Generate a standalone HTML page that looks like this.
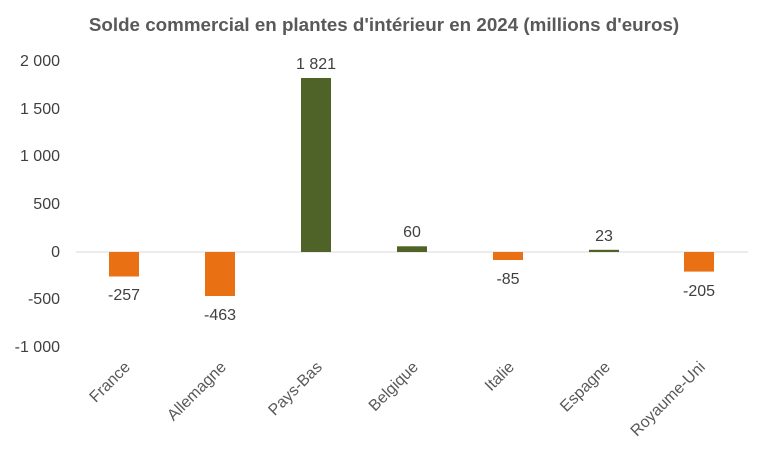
<!DOCTYPE html>
<html><head><meta charset="utf-8"><style>
body{margin:0;background:#fff;}
svg{display:block;font-family:"Liberation Sans",Arial,sans-serif;}
</style></head><body>
<svg width="768" height="461" viewBox="0 0 768 461">
<rect width="768" height="461" fill="#fff"/>
<text x="384" y="31" text-anchor="middle" font-size="18.8" font-weight="bold" fill="#595959">Solde commercial en plantes d'intérieur en 2024 (millions d'euros)</text>
<g font-size="16" fill="#404040" text-anchor="end">
<text x="60" y="66">2 000</text>
<text x="60" y="114">1 500</text>
<text x="60" y="161">1 000</text>
<text x="60" y="209">500</text>
<text x="60" y="257">0</text>
<text x="60" y="304">-500</text>
<text x="60" y="352">-1 000</text>
</g>
<line x1="76" y1="252" x2="748" y2="252" stroke="#d9d9d9" stroke-width="1"/>
<g fill="#E97113">
<rect x="109" y="252" width="30" height="24.5"/>
<rect x="205" y="252" width="30" height="44"/>
<rect x="493" y="252" width="30" height="8"/>
<rect x="684" y="252" width="30" height="19.6"/>
</g>
<g fill="#4F6228">
<rect x="301" y="78" width="30" height="174"/>
<rect x="397" y="246.3" width="30" height="5.7"/>
<rect x="589" y="249.8" width="30" height="2.2"/>
</g>
<g font-size="16" fill="#404040" text-anchor="middle">
<text x="124" y="300">-257</text>
<text x="220" y="320">-463</text>
<text x="316" y="69">1 821</text>
<text x="412" y="237">60</text>
<text x="508" y="284">-85</text>
<text x="604" y="241">23</text>
<text x="699" y="296">-205</text>
</g>
<g font-size="16" fill="#595959" text-anchor="end">
<text transform="translate(131,368) rotate(-45)">France</text>
<text transform="translate(227,368) rotate(-45)">Allemagne</text>
<text transform="translate(323,368) rotate(-45)">Pays-Bas</text>
<text transform="translate(419,368) rotate(-45)">Belgique</text>
<text transform="translate(515,368) rotate(-45)">Italie</text>
<text transform="translate(611,368) rotate(-45)">Espagne</text>
<text transform="translate(706,368) rotate(-45)">Royaume-Uni</text>
</g>
</svg>
</body></html>
